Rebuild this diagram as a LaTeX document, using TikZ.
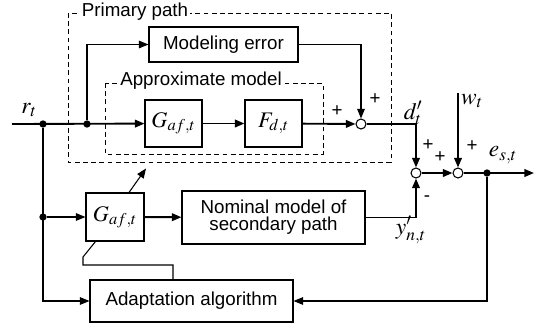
\documentclass[tikz,border=0pt]{standalone}
\usepackage{mathptmx}
\usepackage{fontspec}
\setmainfont{Liberation Sans}
\usetikzlibrary{arrows.meta,calc}
\newcommand{\blkfont}{\fontsize{16}{14.5}\selectfont}
\newcommand{\varfont}{\fontsize{20}{20}\selectfont}
\newcommand{\filtfont}{\fontsize{19}{19}\selectfont}
\tikzset{
  blk/.style={draw, line width=0.9pt, align=center, inner sep=0pt, font=\blkfont},
  filt/.style={blk, font=\filtfont},
  dashbox/.style={draw, line width=0.8pt, dash pattern=on 4pt off 3pt},
  ttl/.style={fill=white, inner sep=1.5pt, font=\blkfont},
  sumpt/.style={circle, draw, fill=white, line width=0.9pt, minimum size=0.3cm, inner sep=0pt},
  jpt/.style={circle, fill, minimum size=0.22cm, inner sep=0pt},
  sarr/.style={-{Triangle[length=2.9mm,width=2.3mm]}, line width=1.6pt},
  tarr/.style={-{Triangle[length=2.9mm,width=2.3mm]}, line width=0.9pt},
  sgn/.style={font=\blkfont, inner sep=0pt},
  var/.style={font=\varfont, inner sep=0pt},
}

\begin{document}
\begin{tikzpicture}[x=0.03cm, y=-0.03cm]
  \useasboundingbox (0,0) rectangle (543,329);

  % primary path and its approximate model
  \draw[dashbox] (68,13) rectangle (391,162);
  \node[ttl] (pplbl) at (135,12) {Primary path};
  \draw[dashbox] (105,83) rectangle (323,154);
  \node[ttl] (amlbl) at (201,81) {Approximate model};

  \node[blk, minimum width=4.47cm, minimum height=1.05cm] (moderr) at (223.5,44.5) {Modeling error};
  \node[filt, minimum width=1.71cm, minimum height=1.41cm] (gaf) at (173.5,123.5) {$G_{af,t}$};
  \node[filt, minimum width=1.71cm, minimum height=1.41cm] (fd) at (273.5,123.5) {$F_{d,t}$};
  \node[sumpt] (sum1) at (361,124) {};

  % secondary side
  \node[filt, minimum width=1.74cm, minimum height=1.44cm] (gafl) at (115,217) {$G_{af,t}$};
  \node[blk, minimum width=5.49cm, minimum height=1.59cm] (nom) at (273.5,217.5) {Nominal model of\\secondary path};
  \node[blk, minimum width=6.09cm, minimum height=1.26cm] (adapt) at (191.5,301) {Adaptation algorithm};
  \node[sumpt] (sum2) at (416,173) {};
  \node[sumpt] (sum3) at (458,173) {};

  % branch points
  \node[jpt] (j1) at (43,124) {};
  \node[jpt] (j2) at (87,124) {};
  \node[jpt] (j3) at (43,217) {};
  \node[jpt] (j4) at (487,173) {};
  \coordinate (rin) at (12,124);
  \coordinate (dcorner) at (416,124);
  \coordinate (wtop) at (458,93);
  \coordinate (eout) at (534,173);

  % signal flow
  \draw[sarr] (rin) -- (gaf);
  \draw[sarr] (gaf) -- (fd);
  \draw[sarr] (fd) -- (sum1);
  \draw[tarr] (j2) |- (moderr);
  \draw[tarr] (moderr) -| (sum1);
  \draw[line width=0.9pt] (sum1) -- (dcorner);
  \draw[sarr] (dcorner) -- (sum2);
  \draw[sarr] (wtop) -- (sum3);
  \draw[sarr] (sum2) -- (sum3);
  \draw[sarr] (sum3) -- (eout);
  \draw[sarr] (gafl) -- (nom);
  \draw[sarr] (nom) -| (sum2);
  \draw[tarr] (j1) |- (adapt);
  \draw[tarr] (j3) -- (gafl);
  \draw[tarr] (j4) |- (adapt);

  % adaptation of the filter
  \draw[line width=0.9pt] ($(adapt.north)+(-18.5,0)$) |- (83,265) -- (83,257) -- ($(gafl.south west)+(10,0)$);
  \draw[tarr] ($(gafl.north)+(14,0)$) -- ++(17,-24);

  % labels
  \node[var] (rlbl) at (29,110) {$r_t$};
  \node[var] (dlbl) at (413,113) {$d'_t$};
  \node[var] (wlbl) at (472,101) {$w_t$};
  \node[var] (elbl) at (503,155) {$e_{s,t}$};
  \node[var] (ylbl) at (411,230) {$y'_{n,t}$};
  \node[sgn] at (337,111) {+};
  \node[sgn] at (375,99) {+};
  \node[sgn] at (428,145) {+};
  \node[sgn] at (440,157) {+};
  \node[sgn] at (472,146) {+};
  \node[sgn] at (427,199) {-};
\end{tikzpicture}
\end{document}
